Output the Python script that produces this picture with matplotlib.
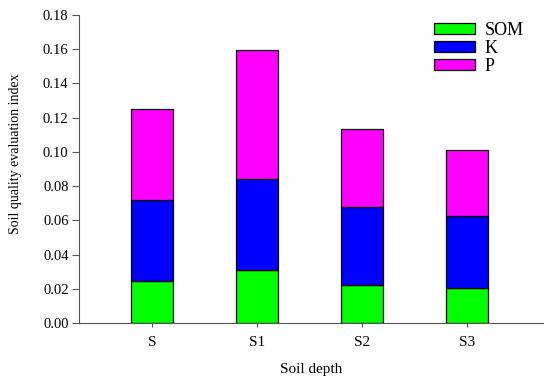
import matplotlib
matplotlib.use("Agg")
import matplotlib.pyplot as plt
import numpy as np

categories = ["S", "S1", "S2", "S3"]
som = [0.0246, 0.0312, 0.0222, 0.0206]
k = [0.0472, 0.0530, 0.0456, 0.0422]
p = [0.0532, 0.0756, 0.0457, 0.0384]
yticks = [0.00, 0.02, 0.04, 0.06, 0.08, 0.10, 0.12, 0.14, 0.16, 0.18]

plt.rcParams['font.family'] = ['Liberation Serif', 'DejaVu Serif']

W, H = 550, 382
fig = plt.figure(figsize=(5.5, 3.82), dpi=100)
ax = fig.add_axes([79 / W, 1 - 323 / H, (543 - 79) / W, (323 - 15) / H])

x = np.arange(len(categories))
w = 0.4
ax.bar(x, som, w, color="#00ff00", edgecolor="black", linewidth=0.9, label="SOM")
ax.bar(x, k, w, bottom=som, color="#0000ff", edgecolor="black", linewidth=0.9, label="K")
bot2 = np.array(som) + np.array(k)
ax.bar(x, p, w, bottom=bot2, color="#ff00ff", edgecolor="black", linewidth=0.9, label="P")

ax.set_xlim(-0.7, 3.72)
ax.set_ylim(0, 0.18)
ax.set_yticks(yticks)
ax.set_yticklabels([f"{v:.2f}" for v in yticks], fontsize=10.5)
ax.set_xticks(x)
ax.set_xticklabels(categories, fontsize=11)
ax.spines['top'].set_visible(False)
ax.spines['right'].set_visible(False)
for s in ['left', 'bottom']:
    ax.spines[s].set_color('#555555')
    ax.spines[s].set_linewidth(0.8)
ax.tick_params(direction='out', width=0.8, color='#555555')
ax.tick_params(axis='x', length=3, pad=6.5)
ax.tick_params(axis='y', length=5, pad=2.5)

fig.text(311 / W, 1 - 369 / H, "Soil depth", fontsize=11, ha='center', va='center')
fig.text(16 / W, 1 - 154 / H, "Soil quality evaluation index", fontsize=10,
         rotation=90, ha='center', va='center')

leg = ax.legend(loc='upper left', bbox_to_anchor=(434 / W, 1 - 22 / H),
                bbox_transform=fig.transFigure, frameon=False,
                fontsize=13, handlelength=2.27, handleheight=0.55,
                labelspacing=0.05, handletextpad=0.55, borderaxespad=0, borderpad=0)

fig.savefig("out.png", dpi=100)
